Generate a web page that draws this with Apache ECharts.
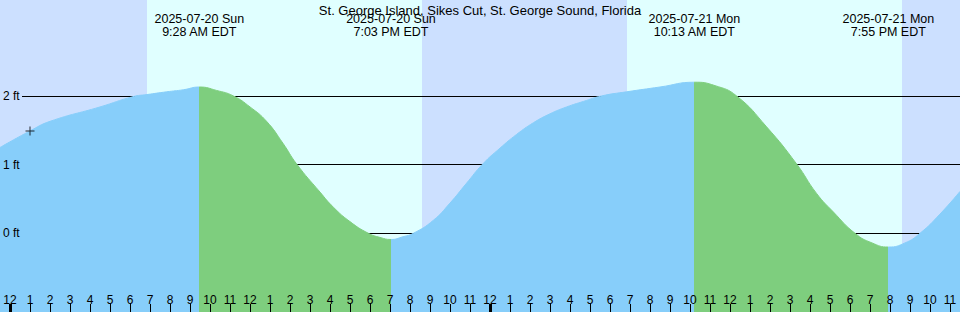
<!DOCTYPE html>
<html>
<head>
<meta charset="utf-8">
<script src="https://cdn.jsdelivr.net/npm/echarts@6/dist/echarts.min.js"></script>
<style>
    html, body { margin: 0; padding: 0; background: #cce0ff; }
    #chart { width: 960px; height: 312px; }
</style>
</head>
<body>
<div id="chart"></div>
<script>
// hours since 2025-07-20 00:00 EDT, levels in ft
const tideHours = [-0.5, 1.0, 2.0, 4.5, 6.15, 6.85, 7.83, 8.67, 9.47, 10.33, 11.17, 12.0, 12.83, 13.65, 14.33,
    15.5, 16.17, 17.0, 17.92, 18.5, 19.05, 19.65, 20.17, 21.17, 22.0, 22.8, 23.64, 24.5, 25.33, 26.17, 27.0,
    27.83, 28.67, 29.58, 30.83, 32.5, 34.22, 35.25, 36.33, 37.83, 39.33, 40.33, 41.17, 42.25, 43.1, 43.92,
    44.75, 45.5, 46.5, 47.5]
const tideFeet = [1.25, 1.49, 1.63, 1.84, 1.99, 2.02, 2.06, 2.09, 2.13, 2.08, 2.00, 1.84, 1.63, 1.31, 1.01,
    0.60, 0.38, 0.17, 0.00, -0.06, -0.09, -0.05, 0.00, 0.19, 0.44, 0.72, 1.01, 1.24, 1.44, 1.61, 1.74,
    1.84, 1.92, 2.00, 2.06, 2.13, 2.20, 2.15, 2.00, 1.55, 1.01, 0.58, 0.31, 0.00, -0.14, -0.20,
    -0.14, 0.00, 0.28, 0.61]

// high / low events
const eventHours = [9.467, 19.05, 34.217, 43.917]
const eventDates = ['2025-07-20 Sun', '2025-07-20 Sun', '2025-07-21 Mon', '2025-07-21 Mon']
const eventClock = ['9:28 AM EDT', '7:03 PM EDT', '10:13 AM EDT', '7:55 PM EDT']

// daylight
const sunriseHours = [6.85, 30.85]
const sunsetHours = [20.6, 44.6]

// current time marker
const nowHour = 1.0
const nowFeet = 1.49

const levelTicks = [0, 1, 2]
const tickHours = Array.from({ length: 48 }, (_, i) => i)
const midnightHours = [0, 24]
const tickLabels = ['12', '1', '2', '3', '4', '5', '6', '7', '8', '9', '10', '11']

const title = 'St. George Island, Sikes Cut, St. George Sound, Florida'

const X_MIN = -0.5
const X_MAX = 47.5
const Y_MIN = -1.146
const Y_MAX = 3.397

const RISE = '#87cefa'
const FALL = '#7ece7e'
const DAY = '#e0ffff'
const NIGHT = '#cce0ff'

const myEcharts = echarts.init(document.getElementById('chart'), null, { renderer: 'svg' })

// rising before the first event, then falling/rising alternately
const pieces = []
let from = null
eventHours.forEach((h, i) => {
    const p = { lt: h, color: i % 2 === 0 ? RISE : FALL }
    if (from !== null) p.gte = from
    pieces.push(p)
    from = h
})
pieces.push({ gte: from, color: RISE })

const option = {
    backgroundColor: NIGHT,
    animation: false,
    textStyle: { fontFamily: 'Liberation Sans', color: '#000' },
    title: {
        text: title,
        left: 'center',
        top: -1,
        textStyle: { fontSize: 13, lineHeight: 13, fontWeight: 'normal', color: '#000', fontFamily: 'Liberation Sans' }
    },
    grid: [
        { left: 0, right: 0, top: 0, bottom: 0 },
        { left: 22, right: 0, top: 0, bottom: 0 }
    ],
    visualMap: {
        type: 'piecewise',
        show: false,
        seriesIndex: 1,
        dimension: 0,
        pieces: pieces
    },
    xAxis: [
        {
            gridIndex: 0,
            type: 'value',
            position: 'bottom',
            min: X_MIN,
            max: X_MAX,
            z: 3,
            axisLine: { show: false, onZero: false },
            splitLine: { show: false },
            axisTick: {
                inside: true,
                length: 8,
                customValues: tickHours,
                lineStyle: { color: '#000', width: 1 }
            },
            axisLabel: {
                inside: true,
                margin: 6,
                customValues: tickHours,
                fontSize: 12,
                color: '#000',
                formatter: (v) => tickLabels[((v % 12) + 12) % 12]
            }
        },
        {
            gridIndex: 0,
            type: 'value',
            position: 'bottom',
            min: X_MIN,
            max: X_MAX,
            z: 3,
            axisLine: { show: false, onZero: false },
            splitLine: { show: false },
            axisLabel: { show: false },
            axisTick: {
                inside: true,
                length: 8,
                customValues: midnightHours,
                lineStyle: { color: '#000', width: 3 }
            }
        },
        { gridIndex: 1, type: 'value', min: X_MIN, max: X_MAX, show: false }
    ],
    yAxis: [
        {
            gridIndex: 0,
            type: 'value',
            min: Y_MIN,
            max: Y_MAX,
            z: 3,
            axisLine: { show: false, onZero: false },
            axisTick: { show: false, customValues: levelTicks },
            splitLine: { show: false },
            axisLabel: {
                inside: true,
                margin: 3,
                customValues: levelTicks,
                fontSize: 12,
                color: '#000',
                formatter: (v) => v + ' ft'
            }
        },
        {
            gridIndex: 1,
            type: 'value',
            min: Y_MIN,
            max: Y_MAX,
            z: 1,
            axisLine: { show: false, onZero: false },
            axisTick: { show: false, customValues: levelTicks },
            axisLabel: { show: false },
            splitLine: { show: true, lineStyle: { color: '#000', width: 1 } }
        }
    ],
    series: [
        {
            type: 'custom',
            xAxisIndex: 0,
            yAxisIndex: 0,
            z: 0,
            silent: true,
            data: sunriseHours.map((h, i) => [h, sunsetHours[i]]),
            renderItem: function (params, api) {
                const p0 = api.coord([api.value(0), Y_MAX])
                const p1 = api.coord([api.value(1), Y_MIN])
                return {
                    type: 'rect',
                    shape: { x: p0[0], y: p0[1], width: p1[0] - p0[0], height: p1[1] - p0[1] },
                    style: { fill: DAY }
                }
            }
        },
        {
            type: 'line',
            xAxisIndex: 0,
            yAxisIndex: 0,
            z: 2,
            smooth: 0.5,
            symbol: 'none',
            silent: true,
            lineStyle: { width: 1 },
            areaStyle: { opacity: 1, origin: 'start' },
            data: tideHours.map((h, i) => [h, tideFeet[i]]),
            markPoint: {
                symbol: 'circle',
                symbolSize: 0,
                silent: true,
                label: {
                    show: true,
                    position: 'inside',
                    offset: [0, 25.6],
                    fontSize: 12.5,
                    lineHeight: 12.5,
                    color: '#000',
                    formatter: '{b}'
                },
                data: eventHours.map((h, i) => ({
                    name: eventDates[i] + '\n' + eventClock[i],
                    coord: [h, Y_MAX]
                }))
            }
        },
        {
            type: 'scatter',
            xAxisIndex: 0,
            yAxisIndex: 0,
            z: 4,
            silent: true,
            symbol: 'path://M0,4H9V5H0Z M4,0H5V9H4Z',
            symbolSize: 9,
            itemStyle: { color: '#000' },
            data: [[nowHour, nowFeet]]
        }
    ]
}

myEcharts.setOption(option)
</script>
</body>
</html>
